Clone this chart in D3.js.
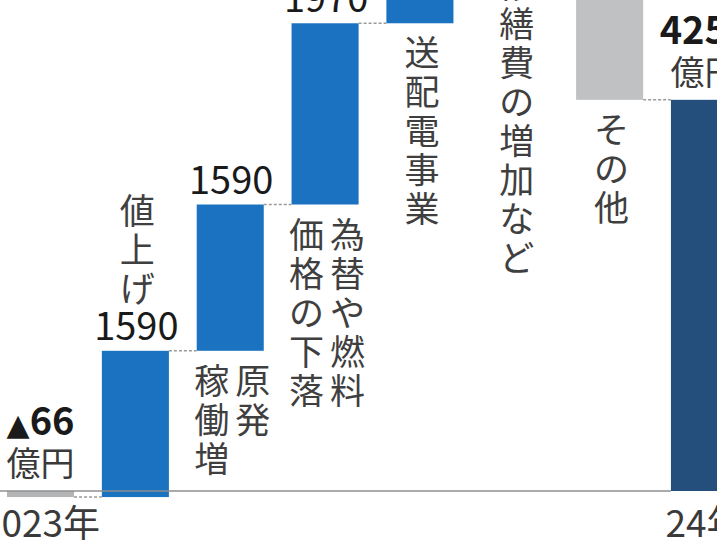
<!DOCTYPE html>
<html lang="ja">
<head>
<meta charset="utf-8">
<script src="https://cdn.jsdelivr.net/npm/d3@7"></script>
<style>
  html, body { margin: 0; padding: 0; background: #fff; overflow: hidden; }
  #graphicContainer { width: 717px; height: 545px; }
  text { font-family: "Noto Sans CJK JP", "Noto Sans", sans-serif; }
</style>
</head>
<body>
<div id="graphicContainer"></div>
<script>

// waterfall: 2023 result -> factors -> 24 result (億円)
const categories = ["2023年", "値上げ", "原発稼働増", "為替や燃料価格の下落", "送配電事業", "修繕費の増加など", "その他", "24年"]
const startValue = -66
const changes = [1590, 1590, 1970, 1100, -354, -1578]
const endValue = 4252
const valueLabels = ["▲66", "1590", "1590", "1970", "1100", "▲354", "▲1578", "4252"]
const labelColumns = [[], ["値上げ"], ["原発", "稼働増"], ["為替や燃料", "価格の下落"], ["送配電事業"], ["修繕費の増加など"], ["その他"], []]
const tickLabels = ["2023年", "24年"]

const colors = { start: "#b4b5b6", up: "#1b72c1", down: "#c0c1c3", end: "#244f7c" }

const width = 717
const height = 545
const baseline = 491          // zero line, the graphic is cropped at the top
const plotHeight = 598
const charStep = 39
const colGap = 41

// build bars
let running = startValue
const datum = [{ key: categories[0], y0: 0, y1: startValue, type: "start" }]
changes.forEach((c, i) => {
  datum.push({ key: categories[i + 1], y0: running, y1: running + c, type: c >= 0 ? "up" : "down" })
  running += c
})
datum.push({ key: categories[7], y0: 0, y1: endValue, type: "end" })
datum.forEach((d, i) => {
  d.label = valueLabels[i]
  d.cols = labelColumns[i]
  d.top = Math.max(d.y0, d.y1)
  d.bottom = Math.min(d.y0, d.y1)
})

const svg = d3.select("#graphicContainer")
  .append("svg")
  .attr("width", width)
  .attr("height", height)

const x = d3.scaleBand()
  .domain(categories)
  .range([7, 738])
  .paddingInner(0.293)
  .paddingOuter(0)

const y = d3.scaleLinear()
  .domain([0, 6500])
  .range([baseline, baseline - plotHeight])

const features = svg.append("g").attr("id", "features")

// bars
features.selectAll("rect.bar")
  .data(datum)
  .enter()
  .append("rect")
  .attr("class", "bar")
  .attr("x", d => x(d.key))
  .attr("width", x.bandwidth())
  .attr("y", d => y(d.top))
  .attr("height", d => y(d.bottom) - y(d.top))
  .attr("fill", d => colors[d.type])

// connectors
features.selectAll("line.conn")
  .data(datum.slice(0, -1))
  .enter()
  .append("line")
  .attr("class", "conn")
  .attr("x1", d => x(d.key) + x.bandwidth())
  .attr("x2", (d, i) => x(datum[i + 1].key))
  .attr("y1", d => y(d.y1))
  .attr("y2", d => y(d.y1))
  .attr("stroke", "#9a9a9a")
  .attr("stroke-width", 1.5)
  .attr("stroke-dasharray", "3 2")

// zero line
features.append("line")
  .attr("x1", 0)
  .attr("x2", x(categories[7]))
  .attr("y1", y(0))
  .attr("y2", y(0))
  .attr("stroke", "#8f8f8f")
  .attr("stroke-width", 1.5)

// value labels
datum.forEach((d, i) => {
  const cx = x(d.key) + x.bandwidth() / 2
  const isTotal = d.type == "start" || d.type == "end"
  const top = y(d.top)
  if (isTotal) {
    const t = features.append("text")
      .attr("x", cx)
      .attr("y", top - 56)
      .attr("text-anchor", "middle")
      .attr("font-size", 38)
      .attr("font-weight", "bold")
      .attr("fill", "#1a1a1a")
    if (d.label.startsWith("▲")) {
      t.append("tspan").attr("font-size", 30).attr("font-family", "DejaVu Sans").text("▲")
      t.append("tspan").text(d.label.slice(1))
    } else {
      t.text(d.label)
    }
    features.append("text")
      .attr("x", cx)
      .attr("y", top - 15)
      .attr("text-anchor", "middle")
      .attr("font-size", 34)
      .attr("fill", "#3a3a3a")
      .text("億円")
  } else {
    features.append("text")
      .attr("x", cx + 1)
      .attr("y", top - 11)
      .attr("text-anchor", "middle")
      .attr("font-size", 38)
      .attr("fill", "#1a1a1a")
      .text(d.label)
  }

  // vertical category labels, first column on the right
  d.cols.forEach((col, c) => {
    const colX = cx + 2 + (d.cols.length - 1) / 2 * colGap - c * colGap
    const chars = Array.from(col)
    chars.forEach((ch, j) => {
      let by
      if (i == 1) {
        // label sits above the value
        by = top - 11 - 38 - (chars.length - 1 - j) * charStep
      } else {
        by = y(d.bottom) + 12 + 31 + j * charStep
      }
      features.append("text")
        .attr("x", colX)
        .attr("y", by)
        .attr("text-anchor", "middle")
        .attr("font-size", 35)
        .attr("fill", "#3f3f3f")
        .text(ch)
    })
  })
})

// x axis labels
const xAxis = d3.axisBottom(x)
  .tickValues([categories[0], categories[7]])
  .tickFormat((d, i) => tickLabels[i])
  .tickSize(0)
  .tickPadding(20)

const gx = features.append("g")
  .attr("class", "x")
  .attr("transform", "translate(0," + baseline + ")")
  .call(xAxis)

gx.select(".domain").remove()
gx.selectAll("text")
  .attr("font-size", 37)
  .attr("font-family", "Noto Sans CJK JP")
  .attr("fill", "#3a3a3a")

</script>
</body>
</html>
